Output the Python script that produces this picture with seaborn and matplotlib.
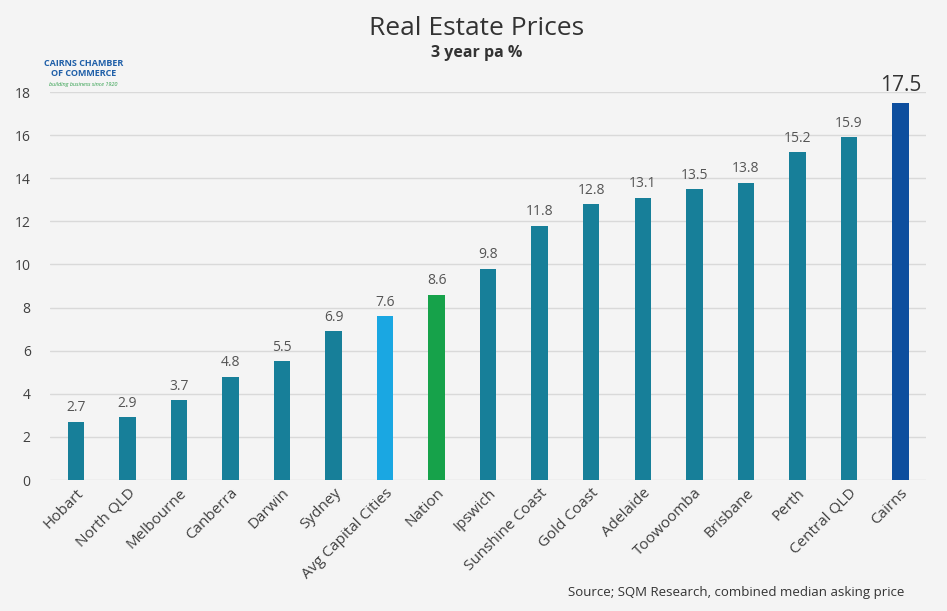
import pandas as pd
import matplotlib.pyplot as plt
import seaborn as sns

places = ['Hobart', 'North QLD', 'Melbourne', 'Canberra', 'Darwin', 'Sydney',
          'Avg Capital Cities', 'Nation', 'Ipswich', 'Sunshine Coast', 'Gold Coast',
          'Adelaide', 'Toowoomba', 'Brisbane', 'Perth', 'Central QLD', 'Cairns']
growth = [2.7, 2.9, 3.7, 4.8, 5.5, 6.9, 7.6, 8.6, 9.8, 11.8, 12.8, 13.1, 13.5,
          13.8, 15.2, 15.9, 17.5]
yticks = [0, 2, 4, 6, 8, 10, 12, 14, 16, 18]

teal = '#177f99'
special = {'Avg Capital Cities': '#1aa7e2', 'Nation': '#16a24a', 'Cairns': '#0d4e9e'}
palette = {p: special.get(p, teal) for p in places}

df = pd.DataFrame({'place': places, 'growth': growth})

sns.set_style('white')
plt.rcParams['font.family'] = ['Open Sans', 'DejaVu Sans']

fig = plt.figure(figsize=(9.47, 6.11), dpi=100)
fig.patch.set_facecolor('#f4f4f4')
ax = fig.add_axes([0.053, 0.2144, 0.925, 0.635])
ax.set_facecolor('#f4f4f4')

sns.barplot(data=df, x='place', y='growth', hue='place', palette=palette,
            legend=False, width=0.32, saturation=1, linewidth=0, ax=ax)

ax.set_ylim(0, 18)
ax.set_xlim(-0.5, len(places) - 0.5)
ax.set_yticks(yticks)
ax.yaxis.grid(True, color='#d9d9d9', linewidth=1)
ax.set_axisbelow(True)
for s in ax.spines.values():
    s.set_visible(False)
ax.tick_params(axis='y', length=0, labelsize=10, labelcolor='#404040', pad=14)
ax.tick_params(axis='x', length=0, labelsize=11, labelcolor='#404040', pad=4)
plt.setp(ax.get_xticklabels(), rotation=45, ha='right', rotation_mode='anchor')
ax.set_xlabel('')
ax.set_ylabel('')

for i, v in enumerate(growth):
    if places[i] == 'Cairns':
        ax.text(i, v + 0.3, f'{v}', ha='center', va='bottom', fontsize=15, color='#333333')
    else:
        ax.text(i, v + 0.3, f'{v}', ha='center', va='bottom', fontsize=10, color='#555555')

fig.text(0.503, 0.953, 'Real Estate Prices', ha='center', va='center',
         fontsize=19, color='#333333')
fig.text(0.503, 0.913, '3 year pa %', ha='center', va='center',
         fontsize=11.5, color='#333333', fontweight='bold')
fig.text(0.955, 0.031, 'Source; SQM Research, combined median asking price',
         ha='right', va='center', fontsize=9.5, color='#333333')

# logo text
fig.text(0.088, 0.888, 'CAIRNS CHAMBER\nOF COMMERCE', ha='center', va='center',
         fontsize=6.5, color='#1f5fa8', fontweight='bold', linespacing=1.1)
fig.text(0.088, 0.862, 'building business since 1920', ha='center', va='center',
         fontsize=4, color='#2e9e4a', style='italic')

fig.savefig('out.png', dpi=100, facecolor=fig.get_facecolor())
